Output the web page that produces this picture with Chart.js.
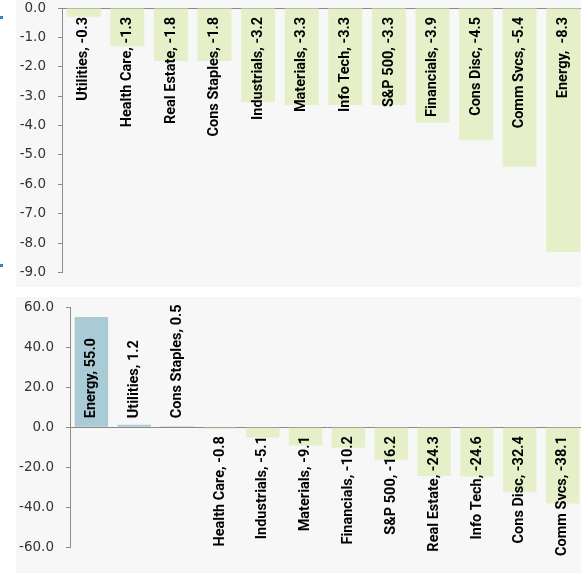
<!DOCTYPE html>
<html>
<head>
<meta charset="utf-8">
<script src="https://cdn.jsdelivr.net/npm/chart.js@4/dist/chart.umd.min.js"></script>
<style>
    body { margin: 0; background: #ffffff; width: 581px; height: 573px; position: relative; overflow: hidden; }
    .panel { position: absolute; left: 16px; width: 565px; background: #f7f7f7; overflow: hidden; }
    #topPanel { top: 0; height: 287px; }
    #bottomPanel { top: 297px; height: 276px; }
    .dot { position: absolute; left: 0; width: 3px; height: 3px; background: #2f8ab4; }
</style>
</head>
<body>
<div class="dot" style="top:16px"></div>
<div class="dot" style="top:264px"></div>
<div class="panel" id="topPanel"><canvas id="topChart" width="569" height="287"></canvas></div>
<div class="panel" id="bottomPanel"><canvas id="bottomChart" width="568" height="276"></canvas></div>
<script>
var topCategories = ["Utilities", "Health Care", "Real Estate", "Cons Staples", "Industrials", "Materials",
    "Info Tech", "S&P 500", "Financials", "Cons Disc", "Comm Svcs", "Energy "];
var topValues = [-0.3, -1.3, -1.8, -1.8, -3.2, -3.3, -3.3, -3.3, -3.9, -4.5, -5.4, -8.3];
var topTicks = [0, -1, -2, -3, -4, -5, -6, -7, -8, -9];

var bottomCategories = ["Energy", "Utilities", "Cons Staples", "Health Care", "Industrials", "Materials",
    "Financials", "S&P 500", "Real Estate", "Info Tech", "Cons Disc", "Comm Svcs"];
var bottomValues = [55.0, 1.2, 0.5, -0.8, -5.1, -9.1, -10.2, -16.2, -24.3, -24.6, -32.4, -38.1];
var bottomTicks = [60, 40, 20, 0, -20, -40, -60];

var axisColor = "#8a8a8a";
var greenBar = "rgb(229,240,201)";
var blueBar = "rgb(169,203,214)";
var tickFont = { family: "'DejaVu Sans'", size: 13.5 };
var labelFont = "bold 14.5px Roboto";

/* rotated "Name, value" text next to the zero line */
var barLabelPlugin = {
    id: "barLabels",
    afterDatasetsDraw: function (chart) {
        var ctx = chart.ctx;
        var meta = chart.getDatasetMeta(0);
        var zero = chart.scales.y.getPixelForValue(0);
        var values = chart.data.datasets[0].data;
        var names = chart.data.labels;
        ctx.save();
        ctx.font = labelFont;
        ctx.fillStyle = "#000000";
        ctx.textBaseline = "middle";
        for (var i = 0; i < meta.data.length; ++i) {
            var v = values[i];
            var name = names[i];
            // a trailing space in the name means a wider gap before the number
            var text = (/ $/.test(name) ? name.trim() + ",  " : name + ", ") + v.toFixed(1);
            ctx.save();
            ctx.translate(meta.data[i].x, v >= 0 ? zero - 9 : zero + 9);
            ctx.rotate(-Math.PI / 2);
            ctx.textAlign = v >= 0 ? "left" : "right";
            ctx.fillText(text, 0, 0);
            ctx.restore();
        }
        ctx.restore();
    }
};

function barColors(values) {
    var out = [];
    for (var i = 0; i < values.length; ++i) {
        out.push(values[i] >= 0 ? blueBar : greenBar);
    }
    return out;
}

function makeChart(id, categories, values, ticks, axisWidth, pad) {
    var ctx = document.getElementById(id);
    return new Chart(ctx, {
        type: "bar",
        data: {
            labels: categories,
            datasets: [{
                data: values,
                backgroundColor: barColors(values),
                borderWidth: 0,
                barPercentage: 0.78,
                categoryPercentage: 1.0
            }]
        },
        options: {
            responsive: false,
            animation: false,
            layout: { padding: pad },
            plugins: {
                legend: { display: false },
                tooltip: { enabled: false }
            },
            scales: {
                x: { display: false },
                y: {
                    min: ticks[ticks.length - 1],
                    max: ticks[0],
                    afterBuildTicks: function (scale) {
                        scale.ticks = ticks.map(function (t) { return { value: t }; });
                    },
                    afterFit: function (scale) {
                        // fixed axis width, and let layout padding alone set the plot height
                        scale.width = axisWidth;
                        scale.paddingTop = 0;
                        scale.paddingBottom = 0;
                    },
                    ticks: {
                        font: tickFont,
                        color: "#333333",
                        padding: 12,
                        callback: function (v) { return Number(v).toFixed(1); }
                    },
                    grid: {
                        drawOnChartArea: true,
                        drawTicks: true,
                        tickLength: 4,
                        tickColor: axisColor,
                        color: function (c) { return c.tick && c.tick.value === 0 ? axisColor : "rgba(0,0,0,0)"; }
                    },
                    border: { color: axisColor, width: 1 }
                }
            }
        },
        plugins: [barLabelPlugin]
    });
}

var topChart = makeChart("topChart", topCategories, topValues, topTicks, 46, { top: 8, bottom: 14.5, left: 0, right: 0 });
var bottomChart = makeChart("bottomChart", bottomCategories, bottomValues, bottomTicks, 54, { top: 10, bottom: 25.5, left: 0, right: 0 });
</script>
</body>
</html>
